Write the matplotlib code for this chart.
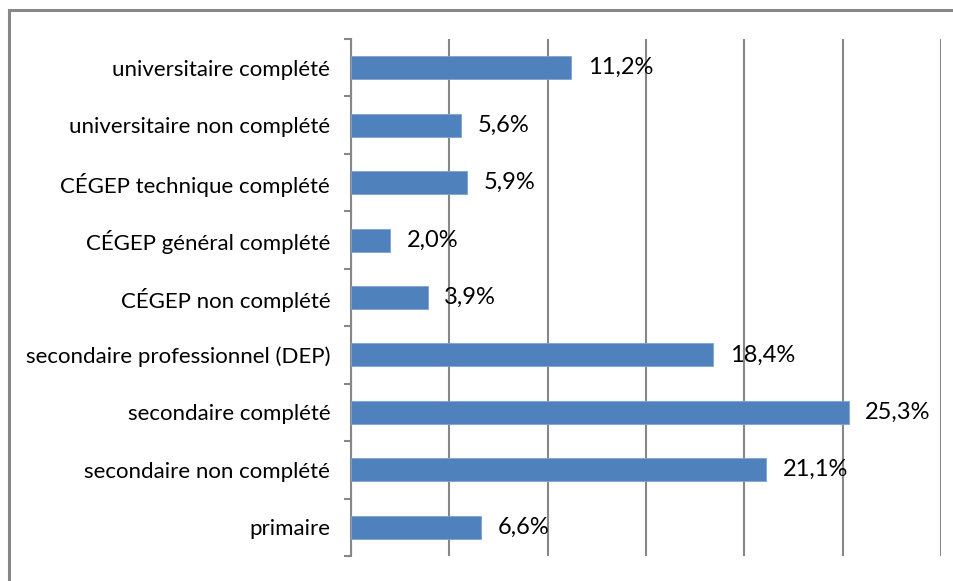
import matplotlib
matplotlib.use("Agg")
import matplotlib.pyplot as plt
from matplotlib.patches import Rectangle
from matplotlib.ticker import FixedLocator

plt.rcParams['font.family'] = ['Lato', 'DejaVu Sans']

# categories from bottom to top
categories = [
    "primaire",
    "secondaire non complété",
    "secondaire complété",
    "secondaire professionnel (DEP)",
    "CÉGEP non complété",
    "CÉGEP général complété",
    "CÉGEP technique complété",
    "universitaire non complété",
    "universitaire complété",
]
values = [6.6, 21.1, 25.3, 18.4, 3.9, 2.0, 5.9, 5.6, 11.2]
value_labels = ["6,6%", "21,1%", "25,3%", "18,4%", "3,9%", "2,0%", "5,9%", "5,6%", "11,2%"]
x_ticks = [0, 5, 10, 15, 20, 25, 30]

grey = "#878787"
bar_color = "#4F81BD"

fig = plt.figure(figsize=(9.54, 5.81), dpi=100)

# outer chart frame (cut at right and bottom like the reference)
frame = Rectangle((9.5 / 954, -0.2), 1.2, 1 - 9.5 / 581 + 0.2,
                  transform=fig.transFigure, fill=False,
                  edgecolor=grey, linewidth=2.2, clip_on=False)
fig.patches.append(frame)

ax = fig.add_axes([351 / 954, 1 - 556 / 581, 590 / 954, (556 - 39) / 581])

pos = list(range(len(categories)))
ax.barh(pos, values, height=0.4, color=bar_color, edgecolor="#7fa3d1",
        linewidth=0.6, zorder=3)

for y, v, lab in zip(pos, values, value_labels):
    ax.annotate(lab, (v, y), xytext=(12, 0), textcoords="offset points",
                va="center", ha="left", fontsize=17, color="black", zorder=4)

ax.set_xlim(0, 30)
ax.set_ylim(-0.5, len(categories) - 0.5)

ax.set_xticks(x_ticks)
ax.set_xticklabels([])
ax.tick_params(axis="x", length=0)
ax.grid(axis="x", color=grey, linewidth=1.5, zorder=0)

ax.set_yticks(pos)
ax.set_yticklabels(categories, fontsize=16)
ax.tick_params(axis="y", which="major", length=0, pad=15)
ax.yaxis.set_minor_locator(FixedLocator([p - 0.5 for p in pos] + [len(pos) - 0.5]))
ax.tick_params(axis="y", which="minor", length=5, width=1.5, color=grey, direction="out")

for side in ["top", "right", "bottom"]:
    ax.spines[side].set_visible(False)
ax.spines["left"].set_color(grey)
ax.spines["left"].set_linewidth(1.5)

fig.savefig("out.png", dpi=100)
